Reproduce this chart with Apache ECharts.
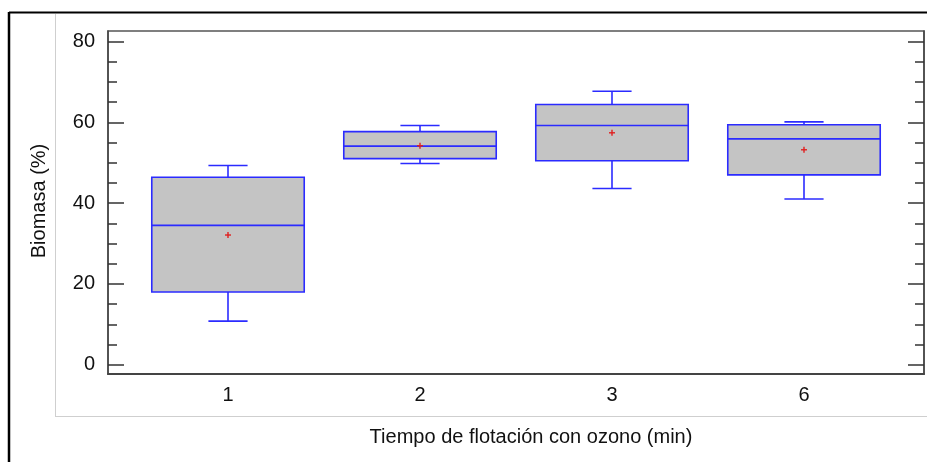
<!DOCTYPE html>
<html>
<head>
<meta charset="utf-8">
<script src="https://cdn.jsdelivr.net/npm/echarts@6/dist/echarts.min.js"></script>
<style>
  html, body { margin: 0; padding: 0; background: #fff; }
  #chart { width: 927px; height: 462px; }
</style>
</head>
<body>
<div id="chart"></div>
<script>
// Biomasa (%) por tiempo de flotación con ozono
const categories = ['1', '2', '3', '6'];
const whiskerLow  = [10.8, 49.8, 43.6, 41.0];
const quartile1   = [18.0, 51.0, 50.5, 47.0];
const medians     = [34.5, 54.1, 59.2, 55.9];
const quartile3   = [46.4, 57.7, 64.4, 59.4];
const whiskerHigh = [49.3, 59.2, 67.7, 60.1];
const means       = [32.1, 54.2, 57.4, 53.2];
const yTickLabels = [0, 20, 40, 60, 80];
const yMinorTicks = [0, 5, 10, 15, 20, 25, 30, 35, 40, 45, 50, 55, 60, 65, 70, 75, 80];

const boxData = categories.map((c, i) => [
  i, whiskerLow[i], quartile1[i], medians[i], quartile3[i], whiskerHigh[i], means[i]
]);

const FONT = '"Liberation Sans", Arial, sans-serif';
const BLUE = '#2b2bff';
const Y_MIN = -2.3, Y_MAX = 82.6;

function renderBox(params, api) {
  const x = api.value(0);
  const unit = api.size([1, 0])[0];
  const halfBox = unit * 0.397;
  const halfCap = unit * 0.102;
  const p = k => api.coord([x, api.value(k)]);
  const pMin = p(1), pQ1 = p(2), pMed = p(3), pQ3 = p(4), pMax = p(5), pMean = p(6);
  const cx = pMed[0];
  const line = { stroke: BLUE, lineWidth: 1.6 };
  return {
    type: 'group',
    children: [
      { type: 'rect', shape: { x: cx - halfBox, y: pQ3[1], width: halfBox * 2, height: pQ1[1] - pQ3[1] },
        style: { fill: '#c4c4c4', stroke: BLUE, lineWidth: 1.6 } },
      { type: 'line', shape: { x1: cx - halfBox, y1: pMed[1], x2: cx + halfBox, y2: pMed[1] }, style: line },
      { type: 'line', shape: { x1: cx, y1: pQ3[1], x2: cx, y2: pMax[1] }, style: line },
      { type: 'line', shape: { x1: cx, y1: pQ1[1], x2: cx, y2: pMin[1] }, style: line },
      { type: 'line', shape: { x1: cx - halfCap, y1: pMax[1], x2: cx + halfCap, y2: pMax[1] }, style: line },
      { type: 'line', shape: { x1: cx - halfCap, y1: pMin[1], x2: cx + halfCap, y2: pMin[1] }, style: line },
      { type: 'line', shape: { x1: cx - 3, y1: pMean[1], x2: cx + 3, y2: pMean[1] }, style: { stroke: '#e02020', lineWidth: 1.4 } },
      { type: 'line', shape: { x1: cx, y1: pMean[1] - 3, x2: cx, y2: pMean[1] + 3 }, style: { stroke: '#e02020', lineWidth: 1.4 } }
    ]
  };
}

const baseY = {
  type: 'value', min: Y_MIN, max: Y_MAX, splitLine: { show: false }
};

const option = {
  animation: false,
  backgroundColor: '#ffffff',
  grid: { left: 108, top: 31, right: 3, bottom: 88, show: true, borderColor: '#555', borderWidth: 1.5, backgroundColor: 'transparent' },
  xAxis: {
    type: 'value', min: -0.625, max: 3.625,
    splitLine: { show: false },
    axisLine: { show: true, onZero: false, lineStyle: { color: '#444', width: 2 } },
    axisTick: { show: false },
    axisLabel: {
      customValues: [0, 1, 2, 3],
      formatter: v => categories[Math.round(v)],
      color: '#111', fontSize: 20, fontFamily: FONT, margin: 11
    }
  },
  yAxis: [
    Object.assign({}, baseY, {
      position: 'left',
      axisLine: { show: true, onZero: false, lineStyle: { color: '#444', width: 1.5 } },
      axisTick: { show: true, inside: true, length: 16, customValues: yTickLabels, lineStyle: { color: '#333', width: 1.5 } },
      axisLabel: { customValues: yTickLabels, color: '#111', fontSize: 20, fontFamily: FONT, margin: 13 }
    }),
    Object.assign({}, baseY, {
      position: 'left',
      axisLine: { show: false, onZero: false },
      axisTick: { show: true, inside: true, length: 9, customValues: yMinorTicks, lineStyle: { color: '#333', width: 1.5 } },
      axisLabel: { show: false }
    }),
    Object.assign({}, baseY, {
      position: 'right',
      axisLine: { show: true, onZero: false, lineStyle: { color: '#444', width: 1.5 } },
      axisTick: { show: true, inside: true, length: 16, customValues: yTickLabels, lineStyle: { color: '#333', width: 1.5 } },
      axisLabel: { show: false }
    }),
    Object.assign({}, baseY, {
      position: 'right',
      axisLine: { show: false, onZero: false },
      axisTick: { show: true, inside: true, length: 9, customValues: yMinorTicks, lineStyle: { color: '#333', width: 1.5 } },
      axisLabel: { show: false }
    })
  ],
  graphic: [
    // outer frame
    { type: 'line', shape: { x1: 9, y1: 12.5, x2: 927, y2: 12.5 }, style: { stroke: '#000', lineWidth: 2 }, z: 100 },
    { type: 'line', shape: { x1: 9, y1: 12, x2: 9, y2: 462 }, style: { stroke: '#000', lineWidth: 2.5 }, z: 100 },
    // panel edges
    { type: 'line', shape: { x1: 55.5, y1: 14, x2: 55.5, y2: 416.5 }, style: { stroke: '#cfcfcf', lineWidth: 1 } },
    { type: 'line', shape: { x1: 55, y1: 416.5, x2: 927, y2: 416.5 }, style: { stroke: '#cfcfcf', lineWidth: 1 } },
    // axis titles
    { type: 'text', x: 531, y: 437, style: { text: 'Tiempo de flotación con ozono (min)', fill: '#111', font: '20px ' + FONT, textAlign: 'center', textVerticalAlign: 'middle' } },
    { type: 'text', x: 39, y: 201, rotation: Math.PI / 2, style: { text: 'Biomasa (%)', fill: '#111', font: '20px ' + FONT, textAlign: 'center', textVerticalAlign: 'middle' } }
  ],
  series: [{
    type: 'custom',
    xAxisIndex: 0,
    yAxisIndex: 0,
    renderItem: renderBox,
    encode: { x: 0, y: [1, 2, 3, 4, 5, 6] },
    data: boxData
  }]
};

const chart = echarts.init(document.getElementById('chart'), null, { renderer: 'canvas' });
chart.setOption(option);
</script>
</body>
</html>
